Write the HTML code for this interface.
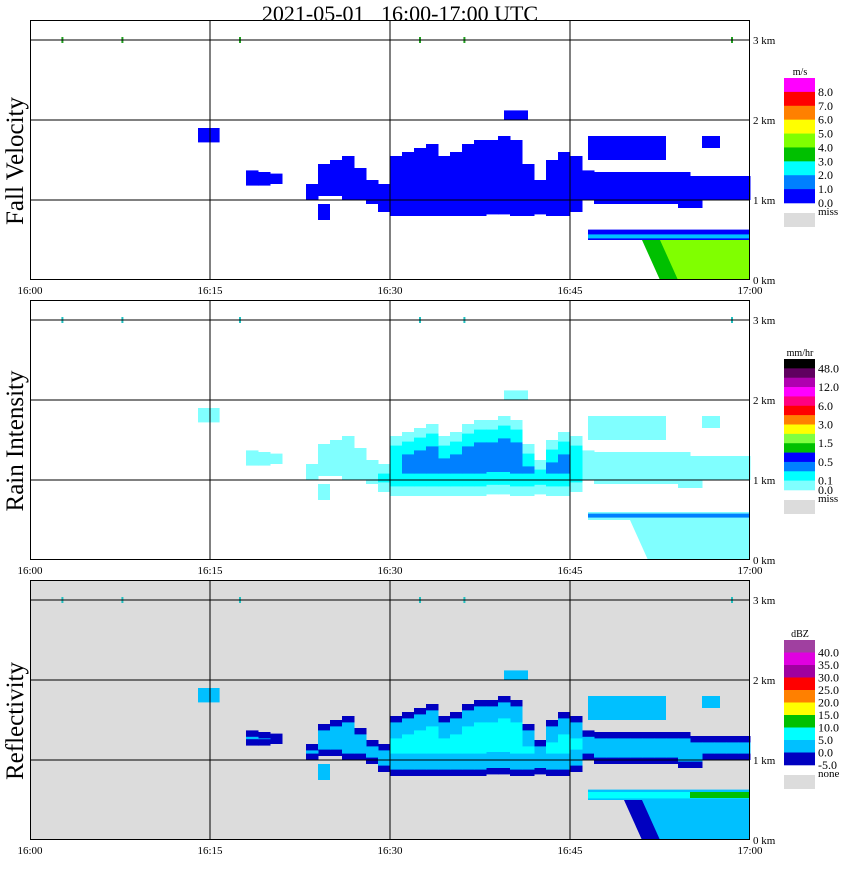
<!DOCTYPE html>
<html><head><meta charset="utf-8"><style>
body{margin:0;background:#fff;}
svg text{font-family:"Liberation Serif",serif;}
</style></head><body>
<svg id="c" width="850" height="868" xmlns="http://www.w3.org/2000/svg"></svg>
<script>
// ---- data (minutes after 16:00, heights in km) ----
const minutes = [18,19,20,23,24,25,26,27,28,29,30,31,32,33,34,35,36,37,38,39,40,41,42,43,44,45,46,47,48,49,50,51,52,53,54,55,56,57,58,59];
const bases   = [1.18,1.18,1.2,1.0,1.05,1.05,1.0,1.0,0.95,0.85,0.8,0.8,0.8,0.8,0.8,0.8,0.8,0.8,0.82,0.82,0.8,0.8,0.82,0.8,0.8,0.85,1.0,0.95,0.95,0.95,0.95,0.95,0.95,0.95,0.9,0.9,1.0,1.0,1.0,1.0];
const tops    = [1.37,1.35,1.33,1.2,1.45,1.5,1.55,1.4,1.25,1.2,1.55,1.6,1.65,1.7,1.55,1.6,1.7,1.75,1.75,1.8,1.75,1.45,1.25,1.5,1.6,1.55,1.37,1.35,1.35,1.35,1.35,1.35,1.35,1.35,1.35,1.3,1.3,1.3,1.3,1.3];
// small isolated patches: [start min, end min, base km, top km]
const patches = [[14,15.8,1.72,1.9],[39.5,41.5,2.0,2.12],[46.5,53,1.5,1.8],[56,57.5,1.65,1.8],[24,25,0.75,0.95]];
// low layer [start, end, base, top]
const lowLayer = [46.5,60,0.5,0.63];
// precipitation wedge below low layer: start minute, full-depth minute
const wedge = [51,52.5];
const kmTicks = [0,1,2,3];
const timeTicks = ["16:00","16:15","16:30","16:45","17:00"];
const tickMin = [0,15,30,45,60];
const markMin = [2.7,7.7,17.5,32.5,36.2,58.5];
// legends
const fvColors = ["#ff00ff","#ff0000","#ff8000","#ffff00","#80ff00","#00c000","#00ffff","#0080ff","#0000ff"];
const fvLabels = ["8.0","7.0","6.0","5.0","4.0","3.0","2.0","1.0","0.0"];
const riColors = ["#000000","#600060","#b000b0","#ff00ff","#ff0080","#ff0000","#ff8000","#ffff00","#80ff40","#00c000","#0000ff","#0080ff","#00ffff","#80ffff"];
const riLabels = ["48.0","","12.0","","6.0","","3.0","","1.5","","0.5","","0.1","0.0"];
const rfColors = ["#a040a0","#e000e0","#a000a0","#ff0000","#ff8000","#ffff00","#00c000","#00ffff","#00c0ff","#0000c0"];
const rfLabels = ["40.0","35.0","30.0","25.0","20.0","15.0","10.0","5.0","0.0","-5.0"];

const NS="http://www.w3.org/2000/svg";
const svg=document.getElementById('c');
function el(tag,attrs,parent){const e=document.createElementNS(NS,tag);for(const k in attrs)e.setAttribute(k,attrs[k]);(parent||svg).appendChild(e);return e;}
const X=t=>30+t*12;
function Yf(P){return km=>P+260-km*80;}

function drawCloud(g,Y,shrink,color,t0,t1){
  for(let i=0;i<minutes.length;i++){
    const t=minutes[i]; if(t<t0||t>=t1) continue;
    const b=bases[i]+shrink, tp=tops[i]-shrink; if(tp<=b) continue;
    const r=el('rect',{x:X(t),y:Y(tp),width:12.5,height:Y(b)-Y(tp),fill:color},g);
    
    
  }
}
function drawPatches(g,Y,shrink,color){
  patches.forEach(p=>{
    const b=p[2]+shrink,tp=p[3]-shrink; if(tp<=b) return;
    const r=el('rect',{x:X(p[0]),y:Y(tp),width:X(p[1])-X(p[0]),height:Y(b)-Y(tp),fill:color},g);
    
    
  });
}
function drawLow(g,Y,color,b,tp){
  const r=el('rect',{x:X(lowLayer[0]),y:Y(tp),width:X(lowLayer[1])-X(lowLayer[0]),height:Y(b)-Y(tp),fill:color},g);
  
  
}
function drawWedge(g,Y,color,off){
  const p=el('polygon',{points:`${X(wedge[0]+off)},${Y(lowLayer[2])} ${X(60)},${Y(lowLayer[2])} ${X(60)},${Y(0)} ${X(wedge[1]+off)},${Y(0)}`,fill:color},g);
  
  
}

function panel(P,name,bg,draw,legendColors,legendLabels,unit,missLabel){
  const Y=Yf(P);
  const g=el('g',{});
  
  
  el('rect',{x:30,y:P,width:720,height:260,fill:bg},g);
  draw(g,Y);
  markMin.forEach(m=>{const r=el('rect',{x:X(m)-1,y:Y(3)-3,width:2,height:6,fill:name==='fall-velocity'?'#20a020':'#20c0c0'},g);});
  kmTicks.forEach(k=>{ if(k>0){const l=el('line',{x1:30,x2:750,y1:Y(k),y2:Y(k),stroke:'#000','stroke-width':1},g);}
    const t=el('text',{x:753,y:Y(k)+4,'font-size':11},g);t.textContent=k+' km';});
  tickMin.forEach((m,i)=>{ if(i>0&&i<4){const l=el('line',{x1:X(m),x2:X(m),y1:P,y2:P+260,stroke:'#000','stroke-width':1},g);}
    const t=el('text',{x:X(m),y:P+274,'font-size':11,'text-anchor':'middle'},g);t.textContent=timeTicks[i];});
  el('rect',{x:30.5,y:P+0.5,width:719,height:259,fill:'none',stroke:'#000'},g);
  const yl=el('text',{x:0,y:0,'font-size':25,'text-anchor':'middle',transform:`translate(23,${P+141}) rotate(-90)`},g);
  yl.textContent={'fall-velocity':'Fall Velocity','rain-intensity':'Rain Intensity','reflectivity':'Reflectivity'}[name];
  
  const lg=el('g',{},g);
  
  
  const top=P+(name==='rain-intensity'?59:(name==='reflectivity'?60:58));
  const total=name==='rain-intensity'?131:125;
  const h=total/legendColors.length;
  const u=el('text',{x:800,y:top-3,'font-size':10,'text-anchor':'middle'},lg);u.textContent=unit;
  legendColors.forEach((c,i)=>{
    const r=el('rect',{x:784,y:top+i*h,width:31,height:h+0.3,fill:c},lg);
    
    if(legendLabels[i]){const t=el('text',{x:818,y:top+(i+1)*h+4,'font-size':12},lg);t.textContent=legendLabels[i];}
  });
  const my=top+total+10;
  el('rect',{x:784,y:my,width:31,height:14,fill:'#dcdcdc'},lg);
  const mt=el('text',{x:818,y:my+2,'font-size':11},lg);mt.textContent=missLabel;
}

const title=el('text',{x:400,y:21,'font-size':22,'text-anchor':'middle',style:'white-space:pre'});
title.textContent='2021-05-01   16:00-17:00 UTC';



panel(20,'fall-velocity','#fff',(g,Y)=>{
  drawCloud(g,Y,0,'#0000ff',0,61); drawPatches(g,Y,0,'#0000ff');
  drawLow(g,Y,'#0000ff',0.5,0.63); drawLow(g,Y,'#00c0ff',0.52,0.57);
  drawWedge(g,Y,'#00c000',0); drawWedge(g,Y,'#80ff00',1.5);
},fvColors,fvLabels,'m/s','miss');

panel(300,'rain-intensity','#fff',(g,Y)=>{
  drawCloud(g,Y,0,'#80ffff',18,61); drawPatches(g,Y,0,'#80ffff');
  drawCloud(g,Y,0.12,'#00ffff',29,46);
  drawCloud(g,Y,0.28,'#0080ff',31,45);
  drawLow(g,Y,'#80ffff',0.5,0.6); drawLow(g,Y,'#0080ff',0.53,0.58);
  drawWedge(g,Y,'#80ffff',-1);
},riColors,riLabels,'mm/hr','miss');

panel(580,'reflectivity','#dcdcdc',(g,Y)=>{
  drawCloud(g,Y,0,'#0000c0',0,61); drawPatches(g,Y,0,'#00c0ff');
  drawCloud(g,Y,0.08,'#00c0ff',18,61);
  drawCloud(g,Y,0.28,'#00ffff',30,46);
  drawLow(g,Y,'#00c0ff',0.5,0.63); drawLow(g,Y,'#00ffff',0.52,0.6);
  const s=el('rect',{x:X(55),y:Y(0.6),width:X(60)-X(55),height:6,fill:'#00c000'},g);
  drawWedge(g,Y,'#0000c0',-1.5); drawWedge(g,Y,'#00c0ff',0);
},rfColors,rfLabels,'dBZ','none');
</script>
</body></html>
